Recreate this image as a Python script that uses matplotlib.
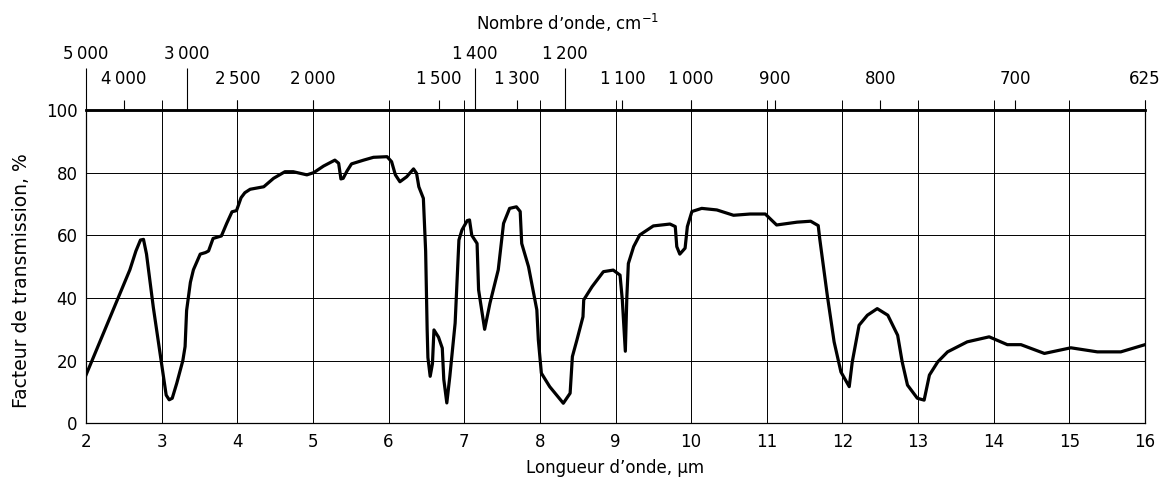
import numpy as np
import matplotlib
matplotlib.use("Agg")
import matplotlib.pyplot as plt
from matplotlib.ticker import FixedLocator, FuncFormatter

# Transmission spectrum (wavelength in um, transmission in %)
wavelength = [2.00, 2.36, 2.58, 2.66, 2.72, 2.76, 2.80, 2.89, 3.00, 3.06, 3.10, 3.14,
              3.20, 3.28, 3.31, 3.33, 3.38, 3.42, 3.51, 3.58, 3.62, 3.68, 3.79, 3.86,
              3.93, 3.99, 4.05, 4.10, 4.17, 4.35, 4.48, 4.63, 4.74, 4.92, 5.01, 5.14,
              5.29, 5.34, 5.37, 5.40, 5.45, 5.51, 5.67, 5.80, 5.98, 6.04, 6.09, 6.15,
              6.24, 6.33, 6.37, 6.40, 6.46, 6.49, 6.51, 6.52, 6.55, 6.58, 6.60, 6.66,
              6.71, 6.73, 6.77, 6.81, 6.88, 6.93, 6.97, 7.04, 7.07, 7.10, 7.17, 7.19,
              7.27, 7.34, 7.45, 7.52, 7.60, 7.69, 7.74, 7.76, 7.85, 7.96, 7.98, 8.02,
              8.13, 8.31, 8.40, 8.43, 8.49, 8.57, 8.58, 8.69, 8.84, 8.97, 9.06, 9.09,
              9.13, 9.15, 9.17, 9.24, 9.32, 9.50, 9.72, 9.79, 9.81, 9.85, 9.92, 9.95,
              10.01, 10.14, 10.34, 10.56, 10.78, 10.98, 11.13, 11.40, 11.58, 11.68, 11.70, 11.80,
              11.89, 11.98, 12.09, 12.13, 12.22, 12.33, 12.46, 12.60, 12.73, 12.79, 12.86, 12.99,
              13.08, 13.15, 13.26, 13.39, 13.65, 13.94, 14.18, 14.36, 14.67, 15.02, 15.37, 15.68,
              16.00]
transmission = [15.4, 36.2, 49.0, 55.0, 58.5, 58.7, 54.0, 37.0, 19.0, 9.0, 7.5, 8.0,
                12.8, 20.0, 24.5, 36.0, 45.0, 49.0, 54.0, 54.5, 55.0, 59.0, 59.8, 63.8,
                67.5, 67.9, 72.0, 73.6, 74.7, 75.5, 78.2, 80.3, 80.3, 79.3, 80.0, 82.1,
                84.0, 83.0, 78.0, 78.2, 80.5, 82.8, 84.0, 84.9, 85.1, 83.5, 79.3, 77.1,
                78.7, 81.2, 79.8, 75.5, 71.8, 55.0, 30.0, 21.0, 15.0, 19.0, 29.8, 27.5,
                24.0, 14.0, 6.5, 15.0, 32.0, 58.5, 61.7, 64.7, 64.9, 60.0, 57.4, 42.6,
                30.0, 38.3, 49.0, 63.8, 68.6, 69.1, 67.6, 57.4, 50.0, 36.2, 26.6, 16.0,
                11.7, 6.4, 9.6, 21.3, 26.6, 34.0, 39.4, 43.6, 48.4, 48.9, 47.3, 39.4,
                23.0, 40.4, 51.0, 56.4, 60.1, 63.0, 63.6, 62.8, 56.4, 54.0, 55.9, 62.8,
                67.6, 68.6, 68.1, 66.4, 66.8, 66.8, 63.3, 64.2, 64.5, 63.1, 58.9, 40.8,
                26.0, 16.4, 11.7, 19.6, 31.3, 34.5, 36.6, 34.5, 28.1, 19.6, 12.2, 8.0,
                7.4, 15.4, 19.6, 22.8, 26.0, 27.6, 25.1, 25.1, 22.3, 24.1, 22.8, 22.8,
                25.1]

x_ticks = list(range(2, 17))
y_ticks = [0, 20, 40, 60, 80, 100]
wn_upper = [5000, 3000, 1400, 1200]
wn_lower = [4000, 2500, 2000, 1500, 1300, 1100, 1000, 900, 800, 700, 625]

plt.rcParams['font.family'] = ['DejaVu Sans']
fs = 12

fig = plt.figure(figsize=(11.61, 4.83), dpi=100)
W, H = 1161, 483
x0, x1, ytop, ybot = 86, 1145, 110, 423.3
ax = fig.add_axes([x0 / W, 1 - ybot / H, (x1 - x0) / W, (ybot - ytop) / H])

ax.plot(wavelength, transmission, color='black', lw=2.3, solid_joinstyle='round')
ax.set_xlim(2, 16)
ax.set_ylim(0, 100)
ax.set_xticks(x_ticks)
ax.set_yticks(y_ticks)
ax.grid(True, color='black', lw=0.7)
ax.tick_params(axis='x', top=True, bottom=False, labelbottom=True, labeltop=False,
               direction='out', length=7, width=0.7, pad=0, labelsize=fs)
ax.tick_params(axis='y', length=0, pad=6, labelsize=fs)
for side in ['left', 'right', 'bottom']:
    ax.spines[side].set_linewidth(0.9)
ax.spines['top'].set_linewidth(1.8)


def inv(v):
    v = np.asarray(v, dtype=float)
    with np.errstate(divide='ignore'):
        return 1e4 / v


def fmt(v, pos=None):
    n = int(round(v))
    if n >= 1000:
        return f"{n // 1000}\u2009{n % 1000:03d}"
    return str(n)


sec = ax.secondary_xaxis('top', functions=(inv, inv))
sec.xaxis.set_major_locator(FixedLocator(wn_upper))
sec.xaxis.set_major_formatter(FuncFormatter(fmt))
sec.xaxis.set_minor_locator(FixedLocator(wn_lower))
sec.xaxis.set_minor_formatter(FuncFormatter(fmt))
sec.tick_params(which='major', length=30, width=0.8, pad=4, labelsize=fs)
sec.tick_params(which='minor', length=7.5, width=0.8, pad=8, labelsize=fs)
sec.spines['top'].set_linewidth(1.8)

fig.text(22 / W, 1 - 281 / H, 'Facteur de transmission, %', rotation=90,
         ha='center', va='center', fontsize=13.5)
fig.text((x0 + x1) / 2 / W, 1 - 468 / H, 'Longueur d\u2019onde, \u00b5m',
         ha='center', va='center', fontsize=fs)
fig.text(568 / W, 1 - 23 / H, 'Nombre d\u2019onde, cm$^{-1}$',
         ha='center', va='center', fontsize=fs)

fig.savefig('out.png', dpi=100)
